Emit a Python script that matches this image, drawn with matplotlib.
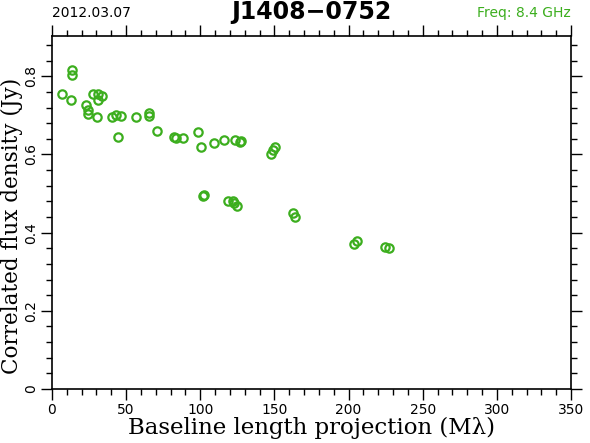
import numpy as np
import matplotlib.pyplot as plt
from matplotlib.ticker import MultipleLocator

# baseline projection (Mlambda) and correlated flux density (Jy)
baseline = [7.0, 13.3, 13.3, 12.8, 22.7, 24.0, 24.0, 27.9, 30.8, 33.5, 30.8,
            30.5, 40.7, 43.2, 46.3, 44.7, 56.4, 65.4, 65.4, 70.6, 82.5, 83.5,
            88.5, 98.3, 100.3, 109.2, 116.0, 123.4, 127.2, 126.8, 150.2, 149.2,
            147.8, 102.0, 102.8, 118.9, 122.2, 124.5, 123.0, 162.7, 163.9,
            205.4, 203.9, 224.5, 227.4]
flux = [0.755, 0.817, 0.803, 0.740, 0.727, 0.713, 0.704, 0.755, 0.755, 0.749,
        0.740, 0.696, 0.697, 0.702, 0.698, 0.644, 0.696, 0.707, 0.699, 0.660,
        0.644, 0.641, 0.641, 0.658, 0.620, 0.629, 0.637, 0.638, 0.635, 0.632,
        0.620, 0.611, 0.601, 0.494, 0.497, 0.481, 0.480, 0.468, 0.477, 0.449,
        0.439, 0.379, 0.371, 0.362, 0.360]

green = '#3cae1e'

fig = plt.figure(figsize=(5.90, 4.43), dpi=100)
ax = fig.add_axes([52/590, 1 - 389/443, 519/590, 353/443])

ax.plot(baseline, flux, 'o', mfc='none', mec=green, mew=1.6, ms=6)

ax.set_xlim(0, 350)
ax.set_ylim(0, 0.903)
ax.xaxis.set_major_locator(MultipleLocator(50))
ax.xaxis.set_minor_locator(MultipleLocator(10))
ax.yaxis.set_major_locator(MultipleLocator(0.2))
ax.yaxis.set_minor_locator(MultipleLocator(0.04))
ax.set_yticks([0, 0.2, 0.4, 0.6, 0.8])
ax.set_yticklabels(['0', '0.2', '0.4', '0.6', '0.8'], rotation=90, va='center')

ax.tick_params(which='both', direction='out', top=True, right=True,
               labelsize=10, color='black', width=1)
ax.tick_params(which='major', length=8)
ax.tick_params(which='minor', length=4)
ax.tick_params(axis='x', pad=2)
ax.tick_params(axis='y', pad=2)
for s in ax.spines.values():
    s.set_linewidth(1.2)

ax.set_xlabel('Baseline length projection (M\u03bb)', family='DejaVu Serif',
              fontsize=16.5, labelpad=0)
ax.set_ylabel('Correlated flux density (Jy)', family='DejaVu Serif',
              fontsize=15.5)
ax.yaxis.set_label_coords(-29/519, 0.462)

fig.text(52/590, 1 - 13/443, '2012.03.07', fontsize=10, va='center', ha='left')
fig.text(311/590, 1 - 12/443, 'J1408\u22120752', fontsize=17, fontweight='bold',
         va='center', ha='center')
fig.text(571/590, 1 - 13/443, 'Freq: 8.4 GHz', fontsize=10, color=green,
         va='center', ha='right')

plt.savefig('out.png', dpi=100)
plt.close()
